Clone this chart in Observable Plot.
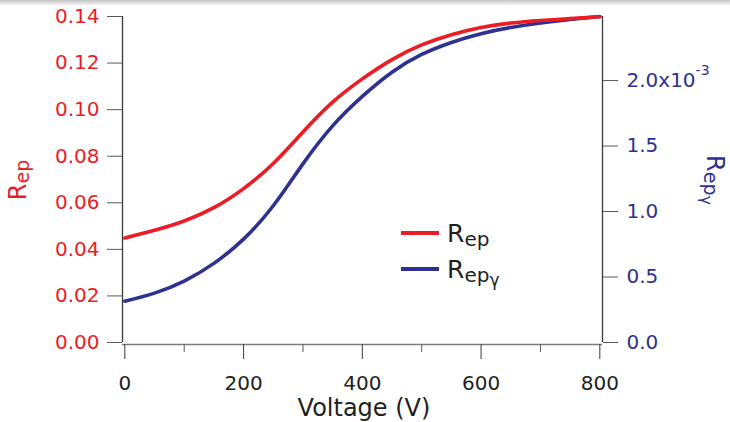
<!DOCTYPE html>
<html>
<head>
<meta charset="utf-8">
<script src="https://cdn.jsdelivr.net/npm/d3@7"></script>
<script src="https://cdn.jsdelivr.net/npm/@observablehq/plot@0.6"></script>
<style>
  html, body { margin: 0; padding: 0; background: #fff; }
  #wrap { position: relative; width: 730px; height: 422px; overflow: hidden; }
  #shade { position: absolute; left: 0; top: 0; width: 730px; height: 6px;
           background: linear-gradient(#c4c4c4, rgba(255,255,255,0)); pointer-events: none; }
</style>
</head>
<body>
<div id="wrap"><div id="shade"></div></div>
<script>
// Bias voltage (V)
const voltage = [0, 50, 100, 150, 200, 250, 300, 350, 400, 450, 500, 550, 600, 650, 700, 750, 800];
// R_ep (left axis)
const rep = [0.0449, 0.0482, 0.0522, 0.0579, 0.0661, 0.0769, 0.0904, 0.1032, 0.1132,
             0.1215, 0.1278, 0.1322, 0.1353, 0.1372, 0.1383, 0.1391, 0.1399];
// R_ep,gamma (right axis, units of 1e-3)
const repGamma = [0.315, 0.377, 0.469, 0.604, 0.789, 1.044, 1.364, 1.654, 1.879,
                  2.064, 2.199, 2.291, 2.358, 2.405, 2.439, 2.466, 2.489];

const xTicksMajor = [0, 200, 400, 600, 800];
const xTicksMinor = [100, 300, 500, 700];
const leftTicks = [0, 0.02, 0.04, 0.06, 0.08, 0.10, 0.12, 0.14];
const rightTicks = [0, 0.5, 1.0, 1.5, 2.0];
const rightTickLabels = ["0.0", "0.5", "1.0", "1.5", "2.0x10"];

const RED = "#ed1c24";
const BLUE = "#2e3192";
const INK = "#231f20";

const leftDomain = [0, 0.14];
const rightDomain = [0, 2.489];
// map right-axis values onto the left scale
const k = leftDomain[1] / rightDomain[1];
const xDomain = [-3.9, 804.5];

const rows = voltage.map((v, i) => ({v, rep: rep[i], repg: repGamma[i]}));

const chart = Plot.plot({
  width: 730,
  height: 422,
  marginLeft: 122,
  marginRight: 128,
  marginTop: 16,
  marginBottom: 80,
  style: {fontFamily: "DejaVu Sans", fontSize: "20px", background: "transparent", overflow: "visible"},
  x: {domain: xDomain},
  y: {domain: leftDomain},
  marks: [
    // frame: left and right axis lines, offset bottom line
    Plot.ruleX([xDomain[0]], {stroke: "#3a3a3a", strokeWidth: 1.3}),
    Plot.ruleX([xDomain[1]], {stroke: "#3a3a3a", strokeWidth: 1.3}),
    Plot.ruleY([0], {dy: 2, stroke: "#7d7d7d", strokeWidth: 1.6}),
    // left axis
    Plot.axisY({ticks: leftTicks, tickSize: 15, tickPadding: 8, label: null,
                tickFormat: d => d.toFixed(2), stroke: "#5a5a5a", fill: RED, fontSize: 20}),
    // right axis
    Plot.axisY({anchor: "right", ticks: rightTicks.map(t => t * k), tickSize: 15, tickPadding: 9, label: null,
                tickFormat: d => rightTickLabels[rightTicks.findIndex(t => Math.abs(t * k - d) < 1e-9)],
                stroke: "#5a5a5a", fill: BLUE, fontSize: 20}),
    // bottom axis, major and minor ticks
    Plot.axisX({ticks: xTicksMajor, tickSize: 15, tickPadding: 16, dy: 2, label: null,
                stroke: "#3a3a3a", fill: INK, fontSize: 20}),
    Plot.axisX({ticks: xTicksMinor, tickSize: 8, dy: 2, label: null, tickFormat: () => "",
                stroke: "#5a5a5a"}),
    // curves
    Plot.line(rows, {x: "v", y: d => d.repg * k, stroke: BLUE, strokeWidth: 3.6, curve: "natural"}),
    Plot.line(rows, {x: "v", y: "rep", stroke: RED, strokeWidth: 3.6, curve: "natural"})
  ]
});

document.getElementById("wrap").prepend(chart);

const svg = d3.select(chart);

// exponent on the top right tick label
svg.selectAll("text").filter(function () { return this.textContent === "2.0x10"; })
  .append("tspan").attr("dy", -12).attr("font-size", 14).text("-3");

// text with subscript parts
function subscripted(g, parts) {
  const t = g.append("text").attr("font-family", "DejaVu Sans");
  for (const p of parts) {
    t.append("tspan").attr("font-size", p.size).attr("dy", p.dy || 0).text(p.text);
  }
  return t;
}

// axis titles
subscripted(svg.append("g").attr("transform", "translate(26,180) rotate(-90)"),
  [{text: "R", size: 24}, {text: "ep", size: 19, dy: 3}])
  .attr("text-anchor", "middle").attr("fill", RED);

subscripted(svg.append("g").attr("transform", "translate(707,180) rotate(90)"),
  [{text: "R", size: 24}, {text: "ep", size: 19, dy: 3}, {text: "γ", size: 16, dy: 3}])
  .attr("text-anchor", "middle").attr("fill", BLUE);

svg.append("text")
  .attr("x", 364).attr("y", 416)
  .attr("text-anchor", "middle")
  .attr("font-family", "DejaVu Sans").attr("font-size", 24)
  .attr("fill", INK)
  .text("Voltage (V)");

// legend
const legend = [
  {color: RED, parts: [{text: "R", size: 25}, {text: "ep", size: 20, dy: 4}], y: 233},
  {color: BLUE, parts: [{text: "R", size: 25}, {text: "ep", size: 20, dy: 4}, {text: "γ", size: 17, dy: 4}], y: 269}
];
const lg = svg.append("g");
for (const item of legend) {
  lg.append("line").attr("x1", 401).attr("x2", 439).attr("y1", item.y).attr("y2", item.y)
    .attr("stroke", item.color).attr("stroke-width", 4);
  subscripted(lg.append("g").attr("transform", `translate(447,${item.y + 9})`), item.parts)
    .attr("text-anchor", "start").attr("fill", INK);
}
</script>
</body>
</html>
